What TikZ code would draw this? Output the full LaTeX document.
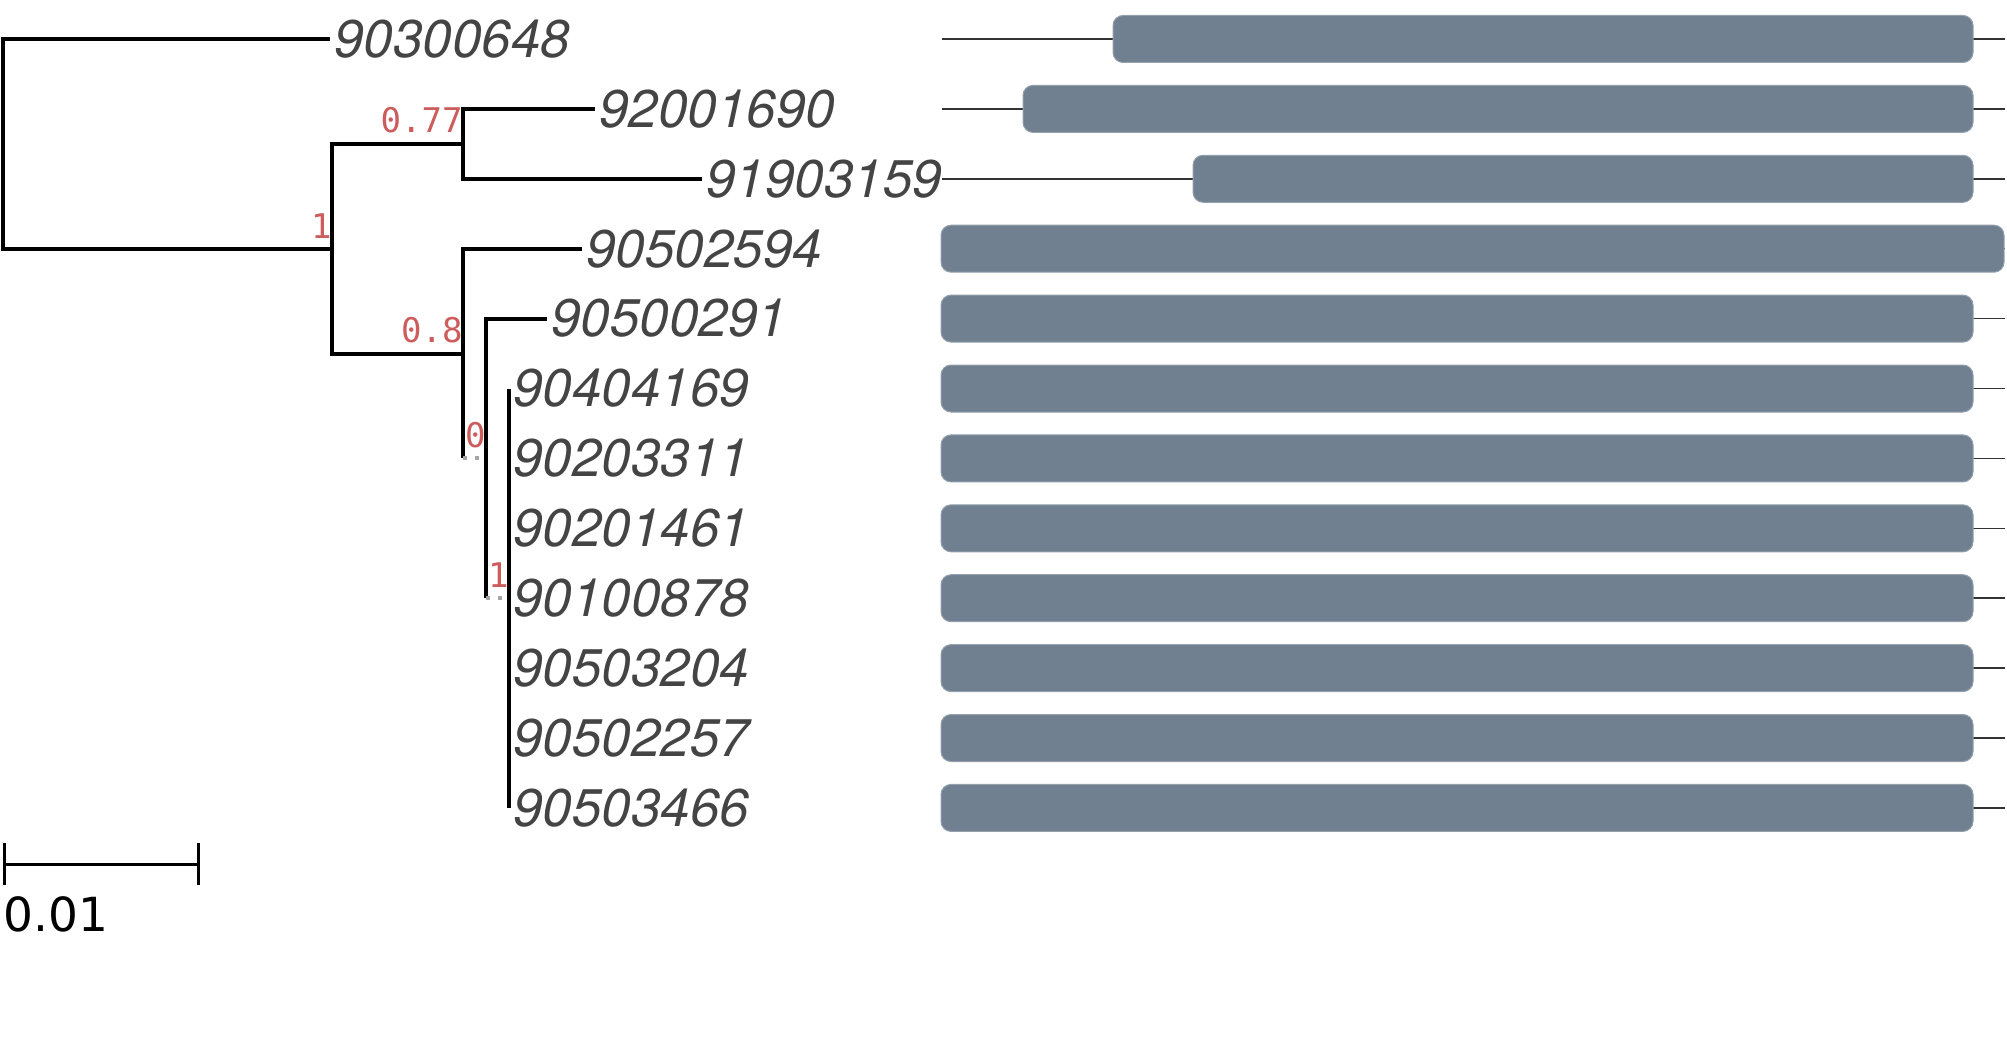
\documentclass[tikz,border=0pt]{standalone}
\usepackage{fontspec}
\usepackage{xcolor}
\usetikzlibrary{positioning}
\newfontfamily\leaffont{TeX Gyre Heros}
\newfontfamily\suppfont{DejaVu Sans Mono}
\newfontfamily\sbfont{DejaVu Sans}
\definecolor{leafgrey}{HTML}{444444}
\definecolor{suppred}{HTML}{CD5C5C}
\definecolor{barslate}{HTML}{708090}
\definecolor{trackgrey}{HTML}{333333}

\begin{document}
\begin{tikzpicture}[x=0.5pt, y=-0.5pt,
  branch/.style={line width=2pt, black},
  stub/.style={line width=2pt, gray!70, dash pattern=on 2pt off 4pt},
  leaf/.style={inner sep=0pt, text=leafgrey, font=\leaffont\itshape\fontsize{26.5pt}{30pt}\selectfont},
  support/.style={inner sep=0pt, text=suppred, font=\suppfont\fontsize{17pt}{20pt}\selectfont},
  track/.style={line width=0.75pt, trackgrey},
  bar/.style={fill=barslate, draw=barslate!75!white, line width=0.5pt, rounded corners=5pt},
  scalebar/.style={line width=1.5pt, black},
  sblabel/.style={inner sep=0pt, font=\sbfont\fontsize{23.5pt}{28pt}\selectfont}]

\useasboundingbox (0,0) rectangle (2007,1038);

% leaf ends
\coordinate (l0) at (330,39);
\coordinate (l1) at (595,108.9);
\coordinate (l2) at (702,178.8);
\coordinate (l3) at (582,248.7);
\coordinate (l4) at (547,318.6);
\coordinate (l5) at (509,388.5);
\coordinate (l6) at (509,458.4);
\coordinate (l7) at (509,528.3);
\coordinate (l8) at (509,598.2);
\coordinate (l9) at (509,668.1);
\coordinate (l10) at (509,738);
\coordinate (l11) at (509,807.9);

% inner nodes
\coordinate (root) at (3,143.85);
\coordinate (nA) at (332,248.7);
\coordinate (nB) at (463,143.85);
\coordinate (nC) at (463,353.55);
\coordinate (nD) at (486,458.4);
\coordinate (nE) at (509,598.2);

\draw [branch] (root) |- (l0);
\draw [branch] (root) |- (nA);
\draw [branch] (nA) |- (nB);
\draw [branch] (nA) |- (nC);
\draw [branch] (nB) |- (l1);
\draw [branch] (nB) |- (l2);
\draw [branch] (nC) |- (l3);
\draw [branch] (nC) -- (nC |- nD);
\draw [stub] (nC |- nD) -- (nD);
\draw [branch] (nD) |- (l4);
\draw [branch] (nD) -- (nD |- nE);
\draw [stub] (nD |- nE) -- (nE);
\foreach \i in {5,...,11}
  \draw [branch] (nE) |- (l\i);

\node [leaf, right=2pt of l0] (t0) {90300648};
\node [leaf, right=2pt of l1] (t1) {92001690};
\node [leaf, right=2pt of l2] (t2) {91903159};
\node [leaf, right=2pt of l3] (t3) {90502594};
\node [leaf, right=2pt of l4] (t4) {90500291};
\node [leaf, right=2pt of l5] (t5) {90404169};
\node [leaf, right=2pt of l6] (t6) {90203311};
\node [leaf, right=2pt of l7] (t7) {90201461};
\node [leaf, right=2pt of l8] (t8) {90100878};
\node [leaf, right=2pt of l9] (t9) {90503204};
\node [leaf, right=2pt of l10] (t10) {90502257};
\node [leaf, right=2pt of l11] (t11) {90503466};

\node [support, above left=5pt and 0pt of nA] (sA) {1};
\node [support, above left=5pt and 0pt of nB] (sB) {0.77};
\node [support, above left=5pt and 0pt of nC] (sC) {0.8};
\node [support, above left=5pt and 0pt of nD] (sD) {0};
\node [support, above left=5pt and 0pt of nE] (sE) {1};

% domain tracks
\foreach \r/\xs/\xe [evaluate=\r as \y using 39+69.9*\r] in
  {0/1113/1973, 1/1023/1973, 2/1193/1973, 3/941/2004, 4/941/1973, 5/941/1973,
   6/941/1973, 7/941/1973, 8/941/1973, 9/941/1973, 10/941/1973, 11/941/1973}
{
  \draw [track] (942,\y) -- (2005,\y);
  \filldraw [bar] (\xs,\y-23.5) rectangle (\xe,\y+23.5);
}

% scale
\coordinate (sbL) at (4,864);
\coordinate (sbR) at (198,864);
\draw [scalebar] (sbL) -- (sbR);
\draw [scalebar] ([yshift=10.5pt]sbL) -- ([yshift=-10.5pt]sbL);
\draw [scalebar] ([yshift=10.5pt]sbR) -- ([yshift=-10.5pt]sbR);
\node [sblabel, anchor=north west] (sbtext) at (3,896) {0.01};
\end{tikzpicture}
\end{document}
